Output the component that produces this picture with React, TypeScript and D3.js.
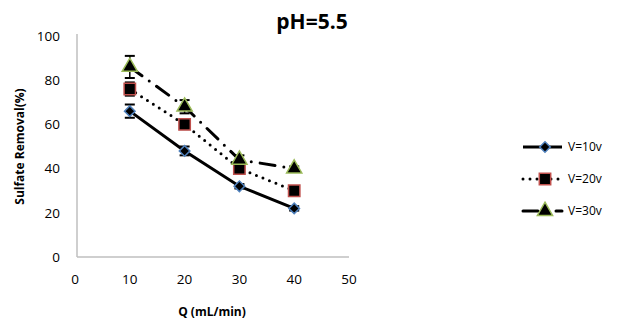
import React from "react";
import * as d3 from "d3";

const flowRates = [10, 20, 30, 40];
const seriesNames = ["V=10v", "V=20v", "V=30v"];
const removalV10 = [66, 48, 32, 22];
const removalV20 = [76, 60, 40, 30];
const removalV30 = [86, 68, 44, 40];
const errorV10 = [3, 2, 1, 1];
const errorV20 = [3, 2, 1, 1];
const errorV30 = [5, 3, 2, 1];
const xTicks = [0, 10, 20, 30, 40, 50];
const yTicks = [0, 20, 40, 60, 80, 100];

const font = "Open Sans, Liberation Sans, sans-serif";

export default function App() {
  const width = 620;
  const height = 324;
  const margin = { top: 36, right: 271, bottom: 67, left: 75 };

  const x = d3.scaleLinear().domain([0, 50]).range([margin.left, width - margin.right]);
  const y = d3.scaleLinear().domain([0, 100]).range([height - margin.bottom, margin.top]);

  // diamond = square turned 45 degrees, like Excel's marker
  const series = [
    { name: seriesNames[0], values: removalV10, errors: errorV10, dash: null, cap: "butt", stroke: "#4F81BD", shape: d3.symbolSquare, size: 56, rot: 45 },
    { name: seriesNames[1], values: removalV20, errors: errorV20, dash: "0 7", cap: "round", stroke: "#C0504D", shape: d3.symbolSquare, size: 130, rot: 0 },
    { name: seriesNames[2], values: removalV30, errors: errorV30, dash: "15 9 0 9", cap: "round", stroke: "#9BBB59", shape: d3.symbolTriangle, size: 100, rot: 0 },
  ];

  const line = d3
    .line<number>()
    .x((_, i) => x(flowRates[i]))
    .y((d) => y(d));

  const axisColor = "#BFBFBF";

  return (
    <svg width={width} height={height} style={{ position: "absolute", left: 0, top: 0, background: "#fff" }}>
      <text x={312} y={29} textAnchor="middle" fontFamily={font} fontWeight="bold" fontSize={21}>
        pH=5.5
      </text>

      {/* axes */}
      <line x1={x(0) + 2} x2={x(0) + 2} y1={y(100) - 2} y2={y(0)} stroke={axisColor} strokeWidth={1.5} />
      <line x1={x(0) + 2} x2={x(50)} y1={y(0)} y2={y(0)} stroke={axisColor} strokeWidth={1.5} />

      {yTicks.map((t) => (
        <text key={t} x={x(0) - 15} y={y(t)} dy="0.35em" textAnchor="end" fontFamily={font} fontSize={13.5}>
          {t}
        </text>
      ))}
      {xTicks.map((t) => (
        <text key={t} x={x(t)} y={y(0) + 27} textAnchor="middle" fontFamily={font} fontSize={13.5}>
          {t}
        </text>
      ))}

      <text
        transform={`translate(24,${(y(0) + y(100)) / 2}) rotate(-90)`}
        textAnchor="middle"
        fontFamily={font}
        fontWeight="bold"
        fontSize={12}
      >
        Sulfate Removal(%)
      </text>
      <text x={212} y={316} textAnchor="middle" fontFamily={font} fontWeight="bold" fontSize={12}>
        Q (mL/min)
      </text>

      {series.map((s) => (
        <g key={s.name}>
          <path
            d={line(s.values) ?? ""}
            fill="none"
            stroke="#000"
            strokeWidth={3}
            strokeDasharray={s.dash ?? undefined}
            strokeLinecap={s.cap as any}
          />
          {s.values.map((v, i) => (
            <g key={i} stroke="#000" strokeWidth={1.5}>
              <line x1={x(flowRates[i])} x2={x(flowRates[i])} y1={y(v + s.errors[i])} y2={y(v - s.errors[i])} />
              <line x1={x(flowRates[i]) - 5} x2={x(flowRates[i]) + 5} y1={y(v + s.errors[i])} y2={y(v + s.errors[i])} strokeWidth={2} />
              <line x1={x(flowRates[i]) - 5} x2={x(flowRates[i]) + 5} y1={y(v - s.errors[i])} y2={y(v - s.errors[i])} strokeWidth={2} />
            </g>
          ))}
          {s.values.map((v, i) => (
            <path
              key={"m" + i}
              transform={`translate(${x(flowRates[i])},${y(v)}) rotate(${s.rot})`}
              d={d3.symbol(s.shape, s.size)() ?? ""}
              fill="#000"
              stroke={s.stroke}
              strokeWidth={1.5}
            />
          ))}
        </g>
      ))}

      {/* legend */}
      {series.map((s, i) => {
        const ly = 147 + i * 32;
        return (
          <g key={"lg" + s.name}>
            <line
              x1={523}
              x2={562}
              y1={ly}
              y2={ly}
              stroke="#000"
              strokeWidth={3}
              strokeDasharray={s.dash ?? undefined}
              strokeLinecap={s.cap as any}
            />
            <path
              transform={`translate(545,${ly}) rotate(${s.rot})`}
              d={d3.symbol(s.shape, s.size)() ?? ""}
              fill="#000"
              stroke={s.stroke}
              strokeWidth={1.5}
            />
            <text x={568} y={ly} dy="0.35em" fontFamily={font} fontSize={12}>
              {s.name}
            </text>
          </g>
        );
      })}
    </svg>
  );
}
